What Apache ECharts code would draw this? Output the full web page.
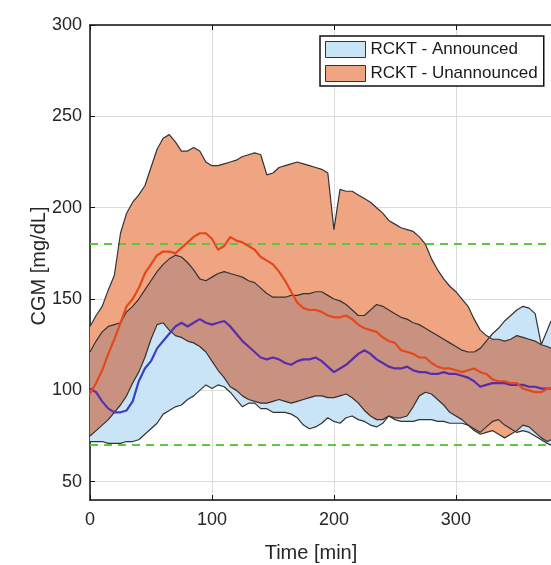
<!DOCTYPE html>
<html>
<head>
<meta charset="utf-8">
<script src="https://cdn.jsdelivr.net/npm/echarts@6/dist/echarts.min.js"></script>
<style>
  html, body { margin: 0; padding: 0; background: #fff; }
  #chart { width: 551px; height: 565px; }
</style>
</head>
<body>
<div id="chart"></div>
<script>
// time grid [min]
const time = [0,5,10,15,20,25,30,35,40,45,50,55,60,65,70,75,80,85,90,95,
  100,105,110,115,120,125,130,135,140,145,150,155,160,165,170,175,180,185,190,195,
  200,205,210,215,220,225,230,235,240,245,250,255,260,265,270,275,280,285,290,295,
  300,305,310,315,320,325,330,335,340,345,350,355,360,365,370,375,378];

// RCKT - Unannounced band
const unUpper = [135,141,146,155,163,186,197,203,207,212, 222,232,238,240,236,231,231,233,231,225,
  223,223,224,225,226,228,229,230,229,218, 219,222,223,224,225,224,223,222,221,219,
  188,210,209,209,207,205,203,200,197,193, 191,189,188,187,184,180,172,166,161,157,
  154,150,146,139,133,130,128,128,127,128, 130,129,128,127,125,124,123];
const unLower = [75,78,81,84,88,92,97,104,110,118, 128,136,137,133,130,129,127,126,124,121,
  116,111,107,102,100,97,95,94,93,93, 94,95,94,93,94,95,96,97,97,96,
  96,97,98,96,93,89,86,84,84,86, 85,85,86,91,97,99,98,95,92,88,
  86,84,81,78,76,77,78,76,74,76, 78,81,80,77,74,72,73];
const unMedian = [98,104,111,120,128,137,146,150,156,164, 169,174,176,176,175,178,181,184,186,186,
  183,177,179,184,182,181,179,177,173,171, 169,165,160,154,148,145,144,144,143,141,
  140,140,141,139,136,134,133,132,129,127, 126,122,121,120,118,118,115,113,112,112,
  111,110,111,112,110,109,106,105,105,104, 104,101,100,99,99,101,101];

// RCKT - Announced band
const anUpper = [121,127,132,135,136,137,143,146,150,155, 160,165,169,172,174,173,170,166,161,160,
  162,164,165,164,163,162,160,159,156,153, 151,151,151,152,152,153,153,154,154,152,
  150,149,147,144,141,141,144,147,146,144, 142,140,139,137,136,134,132,130,128,126,
  124,122,121,121,123,127,131,134,138,141, 144,146,145,142,125,133,138];
const anLower = [72,72,72,71,71,71,72,72,73,76, 79,82,87,89,91,92,95,97,100,103,
  101,103,102,99,95,91,93,93,90,90, 88,88,88,87,85,81,79,80,82,85,
  83,82,85,86,84,83,81,80,82,86, 84,83,83,83,84,84,84,83,83,82,
  82,82,81,79,77,80,83,84,81,79, 77,78,77,75,73,71,70];
const anMedian = [101,99,94,90,88,88,89,94,105,112, 116,123,127,131,135,137,135,137,139,137,
  136,137,138,135,131,127,124,121,118,117, 118,117,115,114,116,117,117,118,116,113,
  110,112,114,117,120,122,120,117,115,113, 112,112,113,111,110,110,109,109,110,109,
  109,108,107,105,102,103,104,104,104,103, 103,103,102,102,101,101,101];

const thresholds = [180, 70];
const names = ['RCKT - Announced', 'RCKT - Unannounced'];

const FONT = 'Liberation Sans, Arial, Helvetica, sans-serif';
const BLUE = '#c8e4f6';
const ORANGE = '#f0a582';
const BOTH = '#c89180';

// where both bands cover the same range the fills mix to brown
const bothUpper = time.map((t, i) => Math.min(anUpper[i], unUpper[i]));
const bothLower = time.map((t, i) => Math.max(anLower[i], unLower[i]));

function band(name, upper, lower, color, z) {
  return {
    type: 'custom',
    name: name,
    z: z,
    silent: true,
    data: [0],
    itemStyle: { color: color },
    renderItem: function (params, api) {
      const pts = [];
      for (let i = 0; i < time.length; i++) pts.push(api.coord([time[i], upper[i]]));
      for (let i = time.length - 1; i >= 0; i--) pts.push(api.coord([time[i], Math.min(lower[i], upper[i])]));
      return {
        type: 'polygon',
        shape: { points: pts },
        style: { fill: color, stroke: null }
      };
    }
  };
}

function edge(vals) {
  return {
    type: 'line',
    z: 5,
    silent: true,
    symbol: 'none',
    data: time.map((t, i) => [t, vals[i]]),
    lineStyle: { color: '#333', width: 1.2 }
  };
}

const purple = new echarts.graphic.LinearGradient(0, 0, 1, 0, [
  { offset: 0, color: '#6a2ca4' },
  { offset: 0.05, color: '#5434b0' },
  { offset: 0.1, color: '#3442c6' },
  { offset: 0.16, color: '#3a40c2' },
  { offset: 0.21, color: '#5a2eaa' },
  { offset: 1, color: '#5a2aa8' }
]);

const chart = echarts.init(document.getElementById('chart'));
chart.setOption({
  backgroundColor: '#fff',
  animation: false,
  grid: { left: 90, right: -2, top: 25, bottom: 65 },
  legend: {
    orient: 'vertical',
    left: 320,
    top: 36,
    data: names.map(n => ({ name: n, icon: 'rect' })),
    itemWidth: 40,
    itemHeight: 16,
    itemGap: 7,
    padding: [5, 6, 4, 5],
    borderColor: '#111',
    borderWidth: 1.5,
    backgroundColor: '#fff',
    itemStyle: { borderColor: '#333', borderWidth: 1 },
    textStyle: { fontSize: 17, color: '#1a1a1a', fontFamily: FONT }
  },
  xAxis: [{
    type: 'value',
    min: 0,
    max: 378,
    interval: 100,
    axisLine: { show: true, lineStyle: { color: '#111', width: 1.5 } },
    axisTick: { show: true, inside: true, length: 5, lineStyle: { color: '#111' } },
    axisLabel: { fontSize: 18, color: '#262626', margin: 11, fontFamily: FONT, showMaxLabel: false },
    splitLine: { show: true, lineStyle: { color: '#dcdcdc', width: 1 } }
  }, {
    type: 'value',
    position: 'top',
    min: 0,
    max: 378,
    interval: 100,
    axisLine: { show: true, lineStyle: { color: '#111', width: 1.5 } },
    axisTick: { show: true, inside: true, length: 5, lineStyle: { color: '#111' } },
    axisLabel: { show: false },
    splitLine: { show: false }
  }],
  yAxis: {
    type: 'value',
    min: 40,
    max: 300,
    minInterval: 50,
    maxInterval: 50,
    axisLine: { show: true, lineStyle: { color: '#111', width: 1.5 } },
    axisTick: { show: true, inside: true, length: 5, lineStyle: { color: '#111' } },
    axisLabel: { fontSize: 18, color: '#262626', margin: 8, fontFamily: FONT, showMinLabel: false },
    splitLine: { show: true, lineStyle: { color: '#dcdcdc', width: 1 } }
  },
  graphic: [{
    type: 'text',
    x: 39, y: 266,
    rotation: Math.PI / 2,
    style: { text: 'CGM [mg/dL]', fill: '#262626', font: '20px ' + FONT,
             textAlign: 'center', textVerticalAlign: 'middle' }
  }, {
    type: 'text',
    x: 311, y: 553,
    style: { text: 'Time [min]', fill: '#262626', font: '20px ' + FONT,
             textAlign: 'center', textVerticalAlign: 'middle' }
  }],
  series: [
    band(names[0], anUpper, anLower, BLUE, 1),
    band(names[1], unUpper, unLower, ORANGE, 2),
    band('', bothUpper, bothLower, BOTH, 3),
    edge(anUpper), edge(anLower), edge(unUpper), edge(unLower),
    {
      type: 'line',
      z: 6,
      silent: true,
      data: [],
      markLine: {
        silent: true,
        symbol: 'none',
        label: { show: false },
        lineStyle: { color: '#5cc83c', type: [8, 6], width: 2 },
        data: thresholds.map(v => ({ yAxis: v }))
      }
    },
    {
      type: 'line', z: 7, silent: true, symbol: 'none',
      data: time.map((t, i) => [t, anMedian[i]]),
      lineStyle: { color: purple, width: 2.2 }
    },
    {
      type: 'line', z: 8, silent: true, symbol: 'none',
      data: time.map((t, i) => [t, unMedian[i]]),
      lineStyle: { color: '#e4491c', width: 2.2 }
    }
  ]
});
</script>
</body>
</html>
